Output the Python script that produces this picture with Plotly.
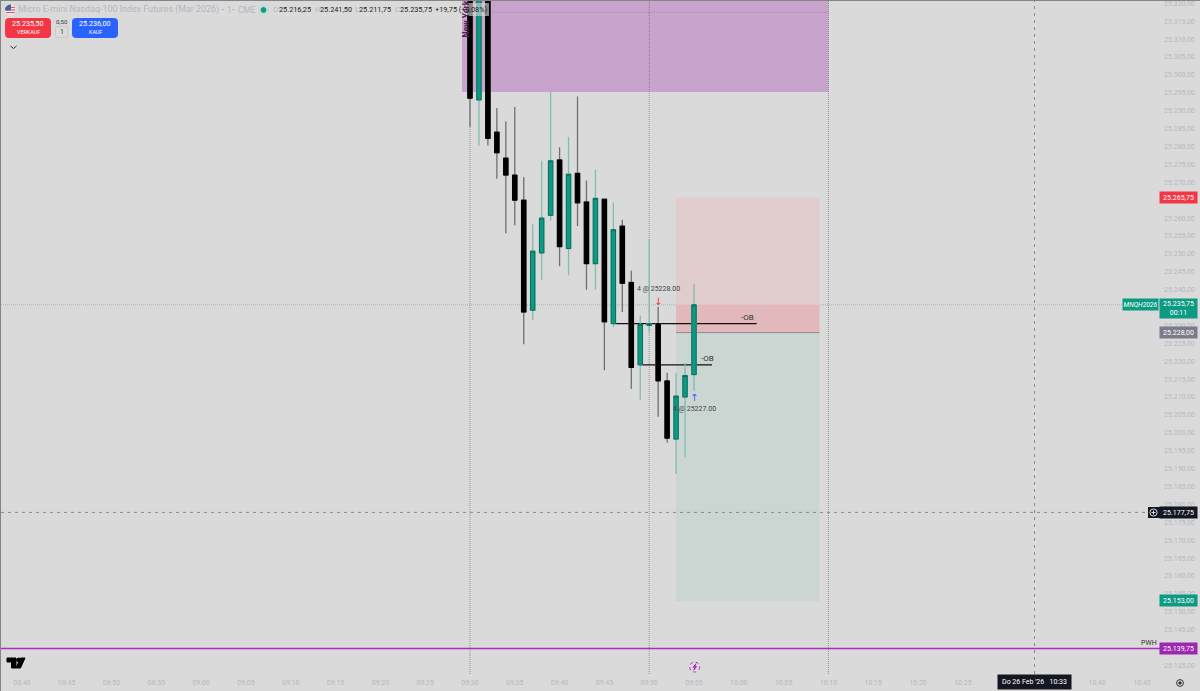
import plotly.graph_objects as go

DAY = "2026-02-26 "

# 1 min bars, 09:30 -> 09:55 (first three run off the top of the chart)
times = [DAY + f"09:{m:02d}" for m in range(30, 56)]
opens = [25335.0, 25293.0, 25335.0, 25284.0, 25276.75, 25272.0, 25265.0, 25234.25, 25250.25, 25260.75,
         25276.25, 25251.5, 25272.5, 25264.5, 25247.25, 25265.25, 25230.5, 25257.75, 25242.0, 25219.0,
         25230.0, 25230.5, 25214.5, 25198.25, 25210.0, 25216.25]
highs = [25340.0, 25335.0, 25340.0, 25290.75, 25287.0, 25291.0, 25271.5, 25258.25, 25276.0, 25295.25,
         25279.75, 25282.75, 25294.0, 25270.5, 25273.5, 25265.25, 25264.25, 25259.5, 25245.25, 25232.75,
         25254.0, 25235.25, 25216.75, 25216.75, 25219.5, 25241.5]
lows = [25285.5, 25280.25, 25280.25, 25271.0, 25255.75, 25258.0, 25224.75, 25231.5, 25242.75, 25259.25,
        25246.5, 25244.0, 25257.75, 25240.0, 25240.0, 25217.5, 25229.5, 25233.75, 25212.25, 25209.25,
        25228.0, 25204.5, 25197.25, 25188.5, 25193.25, 25211.75]
closes = [25293.5, 25335.0, 25282.25, 25278.25, 25272.0, 25265.0, 25233.75, 25250.75, 25260.0, 25276.0,
          25252.0, 25272.25, 25264.25, 25247.25, 25265.5, 25231.0, 25256.75, 25241.75, 25218.25, 25230.25,
          25230.5, 25214.5, 25198.5, 25210.25, 25216.0, 25235.75]

last_price = 25235.75
stop_price = 25265.75
entry_price = 25228.0
target_price = 25153.0
cross_price = 25177.75
pwh_price = 25139.75
supply_low = 25295.25
supply_mid = 25317.5
supply_high = 25340.0
ob_upper = 25230.5
ob_lower = 25219.0

session_times = ["09:30", "09:50", "10:10"]
cross_time = "10:33"
time_range = ["08:37:40", "10:47"]
price_range = [25132.6, 25320.65]

# 10:30 and 10:35 sit behind the crosshair date tag
time_ticks = ["08:40", "08:45", "08:50", "08:55", "09:00", "09:05", "09:10", "09:15", "09:20", "09:25",
              "09:30", "09:35", "09:40", "09:45", "09:50", "09:55", "10:00", "10:05", "10:10", "10:15",
              "10:20", "10:25", "10:40", "10:45"]

BG = "#dadada"
TEAL = "#0d9a82"
TEAL_EDGE = "#0b6f5f"
TEAL_WICK = "#7fbdaf"
BLACK_WICK = "#707070"
PURPLE = "#ac2fbf"
TICK = "#b6b8c1"
SESSION = "rgba(100,100,100,0.6)"

L, T, R, B = 1, 1, 40, 17
W = 1200 - L - R
H = 691 - T - B


def px(x):
    return (x - L) / W


def py(y):
    return 1 - (y - T) / H


def rrect(x0, y0, x1, y1, r, fill, line=None):
    # rounded box, no rounded rect in plotly so it's a path
    a, b, c, d = px(x0), px(x1), py(y0), py(y1)
    rx, ry = r / W, r / H
    return dict(
        type="path", xref="paper", yref="paper", layer="above", fillcolor=fill,
        line=dict(color=line or fill, width=1),
        path=f"M{a + rx},{c} L{b - rx},{c} Q{b},{c} {b},{c - ry} L{b},{d + ry} Q{b},{d} {b - rx},{d} "
             f"L{a + rx},{d} Q{a},{d} {a},{d + ry} L{a},{c - ry} Q{a},{c} {a + rx},{c} Z",
    )


def poly(points, fill=None, color=None, width=1):
    path = "M" + " L".join(f"{px(x)},{py(y)}" for x, y in points)
    if fill:
        path += " Z"
    return dict(type="path", xref="paper", yref="paper", layer="above", path=path,
                fillcolor=fill or "rgba(0,0,0,0)", line=dict(color=color or fill, width=width))


def circle(cx, cy, r, fill="rgba(0,0,0,0)", color=None, width=1, dash="solid"):
    return dict(type="circle", xref="paper", yref="paper", layer="above", fillcolor=fill,
                x0=px(cx - r), x1=px(cx + r), y0=py(cy + r), y1=py(cy - r),
                line=dict(color=color or fill, width=width, dash=dash))


def zone(x0, x1, y0, y1, fill):
    return dict(type="rect", layer="below", x0=DAY + x0, x1=DAY + x1, y0=y0, y1=y1,
                fillcolor=fill, line=dict(width=0))


# paper refs would put "below" shapes under the zones, so these stay on the data axes
def hline(y, color, width=1, dash="solid", x0=None, x1=None):
    x0 = x0 or time_range[0]
    x1 = x1 or time_range[1]
    return dict(type="line", layer="below", x0=DAY + x0, x1=DAY + x1, y0=y, y1=y,
                line=dict(color=color, width=width, dash=dash))


def vline(t, color, dash="1px,1px"):
    return dict(type="line", layer="below", x0=DAY + t, x1=DAY + t, y0=price_range[0], y1=price_range[1],
                line=dict(color=color, width=1, dash=dash))


def text(x, y, s, size=7, color="#333333", **kw):
    # pixel placed text
    kw.setdefault("xanchor", "center")
    kw.setdefault("yanchor", "middle")
    return dict(xref="paper", yref="paper", x=px(x), y=py(y), text=s, showarrow=False, borderpad=0, borderwidth=0,
                font=dict(size=size, color=color, family=kw.pop("family", "Roboto")), **kw)


def tag(price, s, fill, x=1178.5, w=37, h=11, size=7):
    return dict(xref="paper", yref="y", x=px(x), y=price, text=s, showarrow=False, width=w, height=h,
                xanchor="center", yanchor="middle", bgcolor=fill, borderpad=0, align="center",
                font=dict(size=size, color="white", family="Roboto"))


def data_text(t, y, s, size=7, color="#444444", family="Roboto"):
    return dict(x=DAY + t, y=y, text=s, showarrow=False, xanchor="center", yanchor="middle",
                font=dict(size=size, color=color, family=family))


fig = go.Figure()

# wicks first (they have a lighter colour than the bodies), bodies on top
fig.add_trace(go.Candlestick(
    x=times, open=opens, high=highs, low=lows, close=closes,
    increasing=dict(line=dict(color=TEAL_WICK, width=1.3), fillcolor=TEAL),
    decreasing=dict(line=dict(color=BLACK_WICK, width=1.3), fillcolor="#000000"),
    hoverinfo="skip",
))
fig.add_trace(go.Candlestick(
    x=times, open=opens, close=closes,
    high=[max(o, c) for o, c in zip(opens, closes)],
    low=[min(o, c) for o, c in zip(opens, closes)],
    increasing=dict(line=dict(color=TEAL_EDGE, width=1), fillcolor=TEAL),
    decreasing=dict(line=dict(color="#000000", width=1), fillcolor="#000000"),
    hoverinfo="skip",
))

shapes = [
    hline(last_price, "#a2b8b2", 1, "1px,1px"),
    zone("09:29:07", "10:10", supply_low, supply_high, "#c8a4cc"),
    hline(supply_mid, "#a783ab", 1, "1px,1px", "09:29:07", "10:10"),
    zone("09:53", "10:09", entry_price, stop_price, "#e0cccd"),
    zone("09:53", "10:09", entry_price, last_price, "#e2b8bd"),
    zone("09:53", "10:09", target_price, entry_price, "#cbd6d3"),
    hline(entry_price, "#8c8c8c", 1, "solid", "09:53", "10:09"),
    hline(cross_price, "#8a8a8a", 1, "3px,4px"),
    hline(pwh_price, PURPLE, 1.5),
    hline(ob_upper, "#111111", 1.3, "solid", "09:46", "10:02"),
    hline(ob_lower, "#111111", 1.3, "solid", "09:49", "09:57"),
    vline(cross_time, "#8a8a8a", "3px,4px"),
]
shapes += [vline(t, SESSION) for t in session_times]

# chart frame
shapes += [
    dict(type="line", xref="paper", yref="paper", layer="above", x0=px(0), x1=px(1200), y0=py(0.5), y1=py(0.5),
         line=dict(color="#858585", width=1)),
    dict(type="line", xref="paper", yref="paper", layer="above", x0=px(0.5), x1=px(0.5), y0=py(0), y1=py(691),
         line=dict(color="#858585", width=1)),
]

# header: box behind the OHLC change, flag, status dot, order buttons
shapes += [
    dict(type="rect", xref="paper", yref="paper", layer="above", x0=px(458), x1=px(489), y0=py(16), y1=py(3),
         fillcolor="rgba(218,218,218,0.62)", line=dict(width=0)),
    circle(10.5, 10, 5.2, fill="#e9e9ee"),
    poly([(6.2, 7.4), (14.8, 7.4)], color="#e0475a", width=1),
    poly([(5.6, 10), (15.4, 10)], color="#e0475a", width=1),
    poly([(6.2, 12.6), (14.8, 12.6)], color="#e0475a", width=1),
    poly([(5.5, 10), (5.9, 7.6), (7.6, 5.7), (10.5, 4.8), (10.5, 10)], fill="#45629f"),
    circle(263.5, 10, 5, fill="#c3dcd5"),
    circle(263.5, 10, 2.4, fill="#0d9a82"),
    rrect(5.5, 18.5, 50.5, 37.5, 3, "#f23645"),
    rrect(72.5, 18.5, 117.5, 37.5, 3, "#2962ff"),
    rrect(55.5, 26.5, 67.5, 37.5, 2, "#dcdcdc", "#c8c8c8"),
    poly([(10.5, 46), (13.5, 48.5), (16.5, 46)], color="#333333", width=1),
]

# tradingview logo
shapes += [
    poly([(7, 658), (16, 658), (16, 668), (11.5, 668), (11.5, 662), (7, 662)], fill="#000000"),
    circle(18.7, 660, 2, fill="#000000"),
    poly([(20.5, 658), (25, 658), (20.5, 668), (16, 668)], fill="#000000"),
]

# lightning marker and settings icon
shapes += [
    circle(694.7, 667, 5, fill="#dadada", color=PURPLE, dash="dot"),
    poly([(695.8, 663.8), (693.2, 667.3), (695, 667.3), (693.9, 670.2), (696.5, 666.5), (694.8, 666.5)], fill=PURPLE),
    circle(1180, 683, 3.4, color="#333333"),
    circle(1180, 683, 1.2, fill="#333333"),
    # plus button of the crosshair tag
    dict(type="rect", xref="paper", yref="paper", layer="above", x0=px(1148), x1=px(1160), y0=py(518), y1=py(507),
         fillcolor="#131722", line=dict(width=0)),
    circle(1153.5, 512.5, 3.6, color="#d8d8d8"),
    poly([(1151.5, 512.5), (1155.5, 512.5)], color="#d8d8d8"),
    poly([(1153.5, 510.5), (1153.5, 514.5)], color="#d8d8d8"),
]

annotations = [
    # legend row
    text(18, 10, "Micro E-mini Nasdaq-100 Index Futures (Mar 2026)", 8.9, "#b4b7c2", xanchor="left"),
    text(222, 10, "·", 8.6, "#666666", xanchor="left"),
    text(226.5, 10, "1", 8.6, "#b4b7c2", xanchor="left"),
    text(232, 10, "·", 8.6, "#666666", xanchor="left"),
    text(238, 10, "CME", 8.6, "#b4b7c2", xanchor="left"),
    text(273, 10, "O", 8, "#b4b7c2", xanchor="left"),
    text(279, 10, "25.216,25", 7.3, "#222222", xanchor="left"),
    text(315, 10, "H", 8, "#b4b7c2", xanchor="left"),
    text(319.5, 10, "25.241,50", 7.3, "#222222", xanchor="left"),
    text(355, 10, "L", 8, "#b4b7c2", xanchor="left"),
    text(359, 10, "25.211,75", 7.3, "#222222", xanchor="left"),
    text(395, 10, "C", 8, "#b4b7c2", xanchor="left"),
    text(400, 10, "25.235,75", 7.3, "#222222", xanchor="left"),
    text(435, 10, "+19,75 (+0,08%)", 7.3, "#222222", xanchor="left"),
    text(465, 38, "<b>New York</b>", 8.6, "#4b1c58", textangle=-90, yanchor="bottom"),
    # order buttons
    text(28, 24, "25.235,50", 7.2, "white"),
    text(28, 32, "VERKAUF", 5.4, "white"),
    text(95, 24, "25.236,00", 7.2, "white"),
    text(95, 32, "KAUF", 5.4, "white"),
    text(61.5, 21, "0,50", 6, "#333333"),
    text(61.5, 32, "1", 7, "#333333"),
    # drawings
    data_text("10:01", ob_upper + 1.8, "-OB", 8, "#333333"),
    data_text("09:56:30", ob_lower + 1.8, "-OB", 8, "#333333"),
    data_text("09:51", 25240.25, "4 @ 25228.00"),
    data_text("09:55", 25206.75, "4 @ 25227.00"),
    data_text("09:51", 25236.75, "↓", 10, "#f23645", "DejaVu Sans"),
    data_text("09:55", 25210.0, "↑", 10, "#2962ff", "DejaVu Sans"),
    text(1149, 642.5, "PWH", 7, "#333333"),
    # price scale tags
    tag(stop_price, "25.265,75", "#f23645"),
    dict(xref="paper", yref="paper", x=px(1178.5), y=py(308.5), text="25.235,75<br>00:11", showarrow=False,
         width=37, height=19, xanchor="center", yanchor="middle", bgcolor=TEAL, borderpad=0,
         font=dict(size=7, color="white", family="Roboto")),
    tag(entry_price, "25.228,00", "#7b7b8b"),
    tag(cross_price, "25.177,75", "#131722"),
    tag(target_price, "25.153,00", TEAL),
    tag(pwh_price, "25.139,75", "#9c27b0"),
    dict(xref="paper", yref="paper", x=px(1140.5), y=py(304.5), text="<i>MNQH2026</i>", showarrow=False,
         width=35, height=11, xanchor="center", yanchor="middle", bgcolor=TEAL, borderpad=0,
         font=dict(size=6.6, color="white", family="Roboto")),
    # crosshair time tag
    dict(x=DAY + cross_time, yref="paper", y=py(682), text="Do 26 Feb '26   10:33", showarrow=False,
         xanchor="center", yanchor="middle", width=73, height=14, bgcolor="#131722", borderpad=0,
         font=dict(size=7, color="white", family="Roboto")),
]

fig.update_layout(
    width=1200,
    height=691,
    margin=dict(l=L, r=R, t=T, b=B),
    paper_bgcolor=BG,
    plot_bgcolor=BG,
    showlegend=False,
    separators=",.",
    font=dict(family="Roboto", size=7, color=TICK),
    shapes=shapes,
    annotations=annotations,
    hovermode=False,
)

fig.update_xaxes(
    type="date",
    range=[DAY + time_range[0], DAY + time_range[1]],
    rangeslider=dict(visible=False),
    tickmode="array",
    tickvals=[DAY + t for t in time_ticks],
    ticktext=time_ticks,
    tickfont=dict(size=7, color=TICK),
    ticks="",
    ticklabelstandoff=3,
    ticklabeloverflow="allow",
    showgrid=False,
    zeroline=False,
    showline=False,
)

fig.update_yaxes(
    side="right",
    range=price_range,
    dtick=5,
    tick0=25135,
    tickformat=",.2f",
    tickfont=dict(size=7, color=TICK),
    ticks="",
    ticklabelstandoff=3,
    ticklabeloverflow="allow",
    showgrid=False,
    zeroline=False,
    showline=False,
)

fig.write_html("out.html", config=dict(displayModeBar=False),
               post_script="document.body.style.margin='0';document.body.style.overflow='hidden';")
